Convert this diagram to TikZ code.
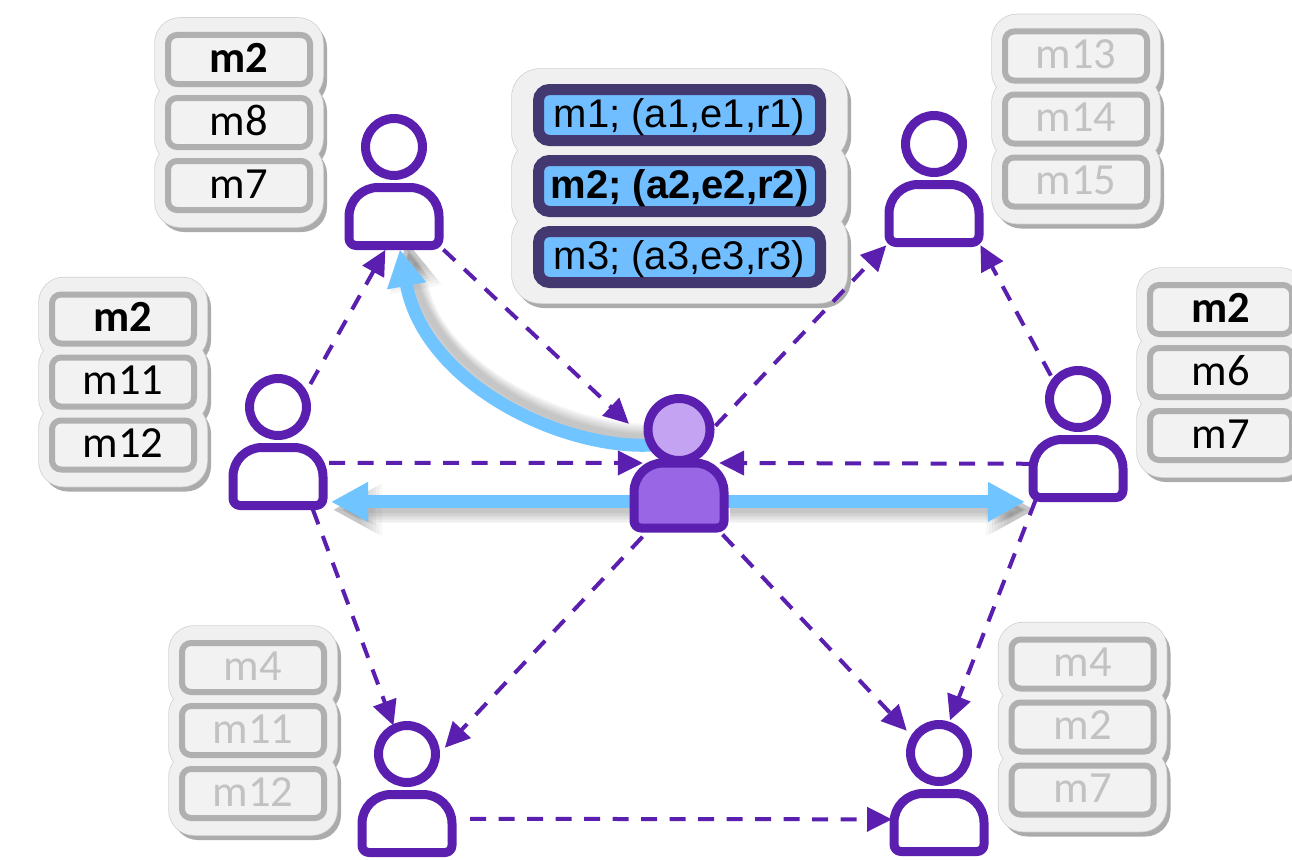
\documentclass[tikz,border=0pt]{standalone}
\usepackage{fontspec}
\setmainfont{Carlito}
\newfontfamily\arialfont{Liberation Sans}
\usetikzlibrary{arrows.meta,backgrounds}

\definecolor{personpurple}{HTML}{5B1FB0}
\definecolor{hubhead}{HTML}{C4A4F2}
\definecolor{hubbody}{HTML}{9966E6}
\definecolor{linkblue}{HTML}{70C4FF}
\definecolor{cellgray}{HTML}{B0B0B0}
\definecolor{cellfill}{HTML}{F2F2F2}
\definecolor{panelfill}{HTML}{F0F0F0}
\definecolor{paneledge}{HTML}{D0D0D0}
\definecolor{panelshade}{HTML}{ABABAB}
\definecolor{dimtext}{HTML}{C2C2C2}
\definecolor{minededge}{HTML}{433870}
\definecolor{minedfill}{HTML}{70BEFF}

\tikzset{
    personline/.style={draw=personpurple, line width=9pt, line join=round},
    pics/person/.style n args={4}{code={
        \node[minimum width=90pt, minimum height={98.5pt-#4pt}, inner sep=0pt, outer sep=0pt] (-body) at (0,{(#4+98.5)/2}) {};
        \draw[personline, fill=#2, rounded corners=7pt] (-body.south) -- (-body.south west)
            [rounded corners=29pt] -- (-body.north west) -- (-body.north east)
            [rounded corners=7pt] -- (-body.south east) -- cycle;
        \node[personline, circle, fill=#1, minimum size=#3pt, inner sep=0pt, outer sep=0pt] (-head) at (0,0) {};
    }},
    cell/.style={draw=cellgray, fill=cellfill, line width=6pt, rounded corners=9pt, minimum width=142pt, minimum height=49pt,
        inner sep=0pt, outer sep=0pt, font=\fontsize{44.5pt}{44.5pt}\selectfont, text height=29pt, text depth=4pt},
    minedcell/.style={draw=minededge, fill=minedfill, line width=11pt, rounded corners=11pt, minimum width=282pt, minimum height=51pt,
        inner sep=0pt, outer sep=0pt, font=\arialfont\fontsize{40pt}{40pt}\selectfont, text height=30pt, text depth=6pt},
    gossip/.style={draw=personpurple, line width=4pt, dash pattern=on 16pt off 12.5pt, -{Triangle[length=25pt,width=24pt]}},
    pull/.style={draw=linkblue, line width=13pt, -{Triangle[length=37pt,width=37pt]}},
    pullshadow/.style={draw=black, opacity=0.03, -{Triangle[length=#1pt,width=#1pt]}},
}

\begin{document}
\begin{tikzpicture}[x=1pt, y=-1pt]
    \useasboundingbox (0,0) rectangle (1292,859);

    % message stacks
    \foreach \stackname/\sx/\sy/\ma/\mb/\mc/\tc in {
        tlstack/239/122.5/{\textbf{m2}}/m8/m7/black,
        lstack/123/382/{\textbf{m2}}/m11/m12/black,
        rstack/1221/372.5/{\textbf{m2}}/m6/m7/black,
        trstack/1076/119/m13/m14/m15/dimtext,
        blstack/253/730.5/m4/m11/m12/dimtext,
        brstack/1082.5/727/m4/m2/m7/dimtext} {
        \foreach \i in {-1,0,1} \fill[panelshade, rounded corners=25pt] ({\sx-80},{\sy+\i*63-36.5}) rectangle ++(168,83);
        \foreach \i in {-1,0,1} \draw[paneledge, line width=1.5pt, rounded corners=25pt] ({\sx-84},{\sy+\i*63-41.5}) rectangle ++(168,83);
        \foreach \i in {-1,0,1} \fill[panelfill, rounded corners=25pt] ({\sx-84},{\sy+\i*63-41.5}) rectangle ++(168,83);
        \node[cell, text=\tc] (\stackname-a) at (\sx,{\sy-63}) {\ma};
        \node[cell, text=\tc] (\stackname-b) at (\sx,\sy) {\mb};
        \node[cell, text=\tc] (\stackname-c) at (\sx,{\sy+63}) {\mc};
    }

    % mined messages
    \foreach \i in {-1,0,1} \fill[panelshade, rounded corners=28pt] (516,{186+\i*71-41}) rectangle ++(335,92);
    \foreach \i in {-1,0,1} \draw[paneledge, line width=1.5pt, rounded corners=28pt] (512,{186+\i*71-46}) rectangle ++(335,92);
    \foreach \i in {-1,0,1} \fill[panelfill, rounded corners=28pt] (512,{186+\i*71-46}) rectangle ++(335,92);
    \node[minedcell] (mined-a) at (679.5,115) {m1; (a1,e1,r1)};
    \node[minedcell] (mined-b) at (679.5,186) {\textbf{m2; (a2,e2,r2)}};
    \node[minedcell] (mined-c) at (679.5,257) {m3; (a3,e3,r3)};

    % people
    \pic (tl) at (394,147) {person={white}{white}{57}{40.5}};
    \pic (tr) at (934,144) {person={white}{white}{57}{40.5}};
    \pic (l) at (278,407) {person={white}{white}{57}{40.5}};
    \pic (r) at (1078,399) {person={white}{white}{57}{40.5}};
    \pic (bl) at (407,754) {person={white}{white}{57}{40.5}};
    \pic (br) at (939,753) {person={white}{white}{57}{40.5}};
    \pic (hub) at (679,429.5) {person={hubhead}{hubbody}{62}{33.5}};

    % blue pushes
    \begin{scope}[on background layer]
        \foreach \w [evaluate=\w as \t using int(\w+22)] in {27,24,21,18,15,12,9,6} {
            \draw[pullshadow=\t, line width=\w pt, shorten >=4pt, transform canvas={shift={(6pt,-8pt)}}] (hub-body.188) -- (hub-body.188 -| l-body.east);
            \draw[pullshadow=\t, line width=\w pt, shorten >=4pt, transform canvas={shift={(6pt,-8pt)}}] (hub-body.-8) -- (hub-body.-8 -| r-body.west);
            \draw[pullshadow=\t, line width=\w pt, shorten >=4pt, transform canvas={shift={(7pt,8pt)}}] (hub-head.210) .. controls +(-88,5) and +(26,140) .. (tl-body.-80);
        }
        \draw[pull, shorten >=8pt] (hub-body.188) -- (hub-body.188 -| l-body.east);
        \draw[pull, shorten >=8pt] (hub-body.-8) -- (hub-body.-8 -| r-body.west);
        \draw[pull, shorten >=4pt] (hub-head.210) .. controls +(-88,5) and +(26,140) .. (tl-body.-80);
    \end{scope}

    % gossip links
    \draw[gossip, shorten <=6pt, shorten >=33pt] (tl-body.south east) -- (hub-head.213);
    \draw[gossip, shorten <=13pt, shorten >=5pt] (l-head.24) -- (tl-body.258);
    \draw[gossip, shorten <=6pt] (l-body.17) -- (hub-body.138);
    \draw[gossip, shorten <=1pt] (r-body.174) -- (hub-body.39);
    \draw[gossip, shorten <=8pt, shorten >=4pt] (hub-head.-4) -- (tr-body.south west);
    \draw[gossip, shorten <=8pt, shorten >=3pt] (r-head.145) -- (tr-body.south east);
    \draw[gossip, shorten <=4pt, shorten >=3pt] (l-body.-41) -- (bl-head.116);
    \draw[gossip, shorten <=3pt, shorten >=6pt] (r-body.215) -- (br-head.72);
    \draw[gossip, shorten <=12pt, shorten >=14pt] (hub-body.229) -- (bl-head.-8);
    \draw[gossip, shorten <=9pt, shorten >=11pt] (hub-body.-41) -- (br-head.150);
    \draw[gossip, shorten <=18pt, shorten >=2pt] (bl-body.6) -- (br-body.176);
\end{tikzpicture}
\end{document}
